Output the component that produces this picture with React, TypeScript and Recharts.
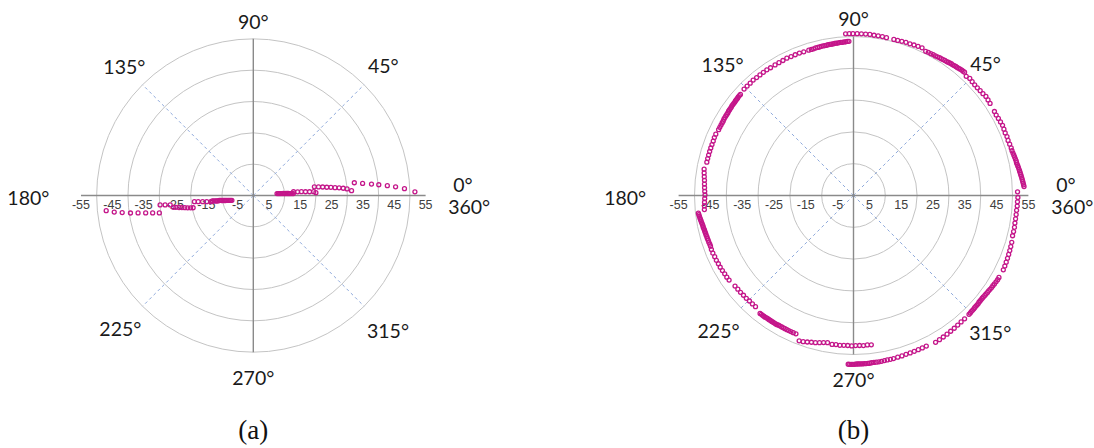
import React from 'react';
import { RadarChart, Radar, PolarGrid, PolarAngleAxis, PolarRadiusAxis } from 'recharts';

type Pt = [number, number]; // [angle in degrees, radius]

// ---------- axis values ----------
const ANGLE_TICKS = [0, 45, 90, 135, 180, 225, 270, 315];
const RING_VALUES = [10, 20, 30, 40, 50];
const RADIUS_TICK_VALUES = [5, 15, 25, 35, 45, 55];
const AXIS_MAX = 55;
const RING_MAX = 50;
const LABEL_MAX = 80;

// ---------- panel (a) data ----------
const PANEL_A_RIGHT: Pt[] = [
  [4.6, 7.6], [4.4, 8.0], [4.3, 8.4], [4.1, 8.8], [3.9, 9.2], [3.8, 9.6], [3.6, 10.0], [3.5, 10.4], [3.4, 10.8], [3.3, 11.2], [3.1, 11.6], [3.0, 12.0], [2.9, 12.4], [2.8, 12.8],
  [5.3, 12.9], [4.8, 14.2], [4.5, 15.4], [4.1, 16.7], [3.8, 18.0], [3.6, 19.3], [2.6, 20.0],
  [8.1, 19.7], [7.5, 21.0], [7.0, 22.3], [6.4, 23.6], [6.0, 24.9], [5.5, 26.2], [5.1, 27.5], [4.6, 28.8], [4.0, 30.0], [2.8, 31.4],
  [7.2, 32.5], [6.3, 35.1], [5.5, 37.9], [4.9, 40.2], [4.2, 42.9], [3.5, 45.5], [2.6, 48.3], [1.3, 51.6],
];
const PANEL_A_LEFT: Pt[] = [
  [185.9, 47.2], [186.8, 44.7], [187.4, 42.2], [188.1, 39.6], [188.6, 37.2], [189.2, 34.8], [189.8, 32.6], [190.5, 30.5],
  [185.8, 29.9], [186.1, 28.3], [186.5, 26.7], [188.4, 25.8], [188.7, 25.0], [189.2, 24.0], [189.6, 23.1], [190.1, 22.2], [190.6, 21.3], [191.1, 20.4], [191.5, 19.6],
  [186.0, 18.9], [186.4, 17.7], [187.0, 16.3], [187.6, 15.0], [188.3, 13.7],
  [187.5, 13.2], [187.9, 12.7], [188.2, 12.2], [188.5, 11.8], [188.8, 11.4], [188.3, 11.0], [188.6, 10.6], [189.0, 10.2], [189.4, 9.8], [189.8, 9.4], [190.2, 9.0], [190.6, 8.6], [191.0, 8.2], [191.5, 7.8], [192.0, 7.4], [192.6, 7.0],
];

// ---------- panel (b) data ----------
const PANEL_B_Q1: Pt[] = [
  [3.0, 53.7], [3.6, 53.6], [4.2, 53.5], [4.8, 53.4], [5.4, 53.3], [6.0, 53.2], [6.6, 53.1], [7.2, 53.0], [7.8, 52.9], [8.4, 52.8], [9.0, 52.7], [9.6, 52.6], [10.2, 52.5], [10.8, 52.4], [11.4, 52.3], [12.0, 52.3], [12.7, 52.2], [13.4, 52.1], [14.1, 52.0], [14.9, 51.9], [15.8, 51.8], [16.8, 51.8],
  [18.2, 51.7], [19.6, 51.6], [21.0, 51.7], [22.4, 51.6], [23.8, 51.7], [25.2, 51.8], [26.6, 51.7], [28.0, 51.6], [29.4, 51.5], [30.8, 51.6],
  [34.0, 51.8], [35.4, 51.9], [36.8, 52.0], [38.2, 51.8], [39.6, 51.7], [41.0, 51.6], [42.4, 51.6], [43.8, 51.7], [45.2, 51.9], [46.6, 51.6],
  [48.0, 52.2], [48.6, 52.1], [49.2, 52.1], [49.8, 52.0], [50.4, 51.9], [51.0, 51.8], [51.6, 51.8], [52.2, 51.7], [52.8, 51.6], [53.4, 51.6], [54.0, 51.5], [54.6, 51.4], [55.2, 51.3], [55.9, 51.3], [56.6, 51.2], [57.3, 51.1], [58.0, 51.1], [58.8, 51.0], [59.6, 50.9], [60.5, 50.9], [61.4, 50.8], [62.4, 50.8], [63.4, 50.7],
  [65.1, 51.2], [66.6, 51.1], [68.1, 51.0], [69.6, 50.9], [71.1, 50.9], [72.6, 50.8], [74.1, 50.7], [75.5, 50.7],
  [78.2, 50.7], [79.7, 50.8], [81.2, 50.8], [82.7, 50.8], [84.2, 50.9], [85.7, 50.9], [87.2, 50.9], [88.7, 50.9],
];
const PANEL_B_Q2: Pt[] = [
  [90.2, 50.9], [91.5, 50.9], [92.8, 50.9],
  [91.7, 48.5], [92.3, 48.5], [92.9, 48.4], [93.5, 48.4], [94.1, 48.3], [94.7, 48.3], [95.3, 48.3], [95.9, 48.2], [96.5, 48.2], [97.1, 48.2], [97.7, 48.1], [98.3, 48.1], [98.9, 48.1], [99.5, 48.1], [100.1, 48.0], [100.8, 48.0], [101.5, 48.0], [102.2, 48.0], [102.9, 47.9], [103.6, 47.9], [104.4, 47.9], [105.2, 47.8], [106.1, 47.8], [107.1, 47.8],
  [109.1, 47.8], [110.8, 47.9], [112.5, 47.9], [114.2, 47.9], [115.9, 48.0], [117.6, 47.9], [119.3, 47.9], [121.0, 47.9],
  [123.0, 47.9], [124.6, 48.0], [126.2, 48.0], [127.8, 48.0], [129.4, 48.0], [131.0, 48.1], [132.6, 48.0], [134.2, 48.0], [135.8, 48.0],
  [138.2, 47.7], [138.8, 47.7], [139.4, 47.7], [140.0, 47.6], [140.6, 47.6], [141.2, 47.6], [141.8, 47.5], [142.4, 47.5], [143.0, 47.5], [143.6, 47.5], [144.2, 47.4], [144.8, 47.4], [145.4, 47.4], [146.0, 47.4], [146.7, 47.3], [147.4, 47.3], [148.1, 47.3], [148.8, 47.3], [149.5, 47.3], [150.3, 47.2], [151.1, 47.2], [152.0, 47.2], [153.0, 47.2], [154.0, 47.2],
  [156.0, 47.4], [157.4, 47.4], [158.8, 47.3], [160.2, 47.3], [161.6, 47.3], [163.0, 47.3], [164.4, 47.3], [165.8, 47.3], [167.2, 47.3],
  [170.0, 47.7], [171.4, 47.5], [172.8, 47.3], [174.2, 47.1], [175.6, 47.0], [177.0, 46.9], [178.4, 46.8], [179.8, 46.7],
];
const PANEL_B_Q3: Pt[] = [
  [181.2, 46.8], [182.6, 46.9], [184.0, 47.0], [185.4, 47.1],
  [186.5, 49.1], [187.1, 49.0], [187.7, 48.9], [188.3, 48.8], [188.9, 48.7], [189.5, 48.6], [190.1, 48.5], [190.7, 48.4], [191.3, 48.3], [191.9, 48.3], [192.5, 48.2], [193.1, 48.1], [193.7, 48.1], [194.3, 48.0], [195.0, 48.0], [195.7, 47.9], [196.4, 47.9], [197.1, 47.8], [197.9, 47.8], [198.7, 47.7], [199.5, 47.7],
  [200.8, 47.8], [202.3, 47.8], [203.8, 47.7], [205.3, 47.7], [206.8, 47.6], [208.3, 47.6], [209.8, 47.5], [211.3, 47.4], [212.8, 47.4], [214.2, 47.3],
  [217.4, 46.9], [219.0, 46.8], [220.6, 46.8], [222.2, 46.7], [223.8, 46.7], [225.4, 46.6], [227.0, 46.6], [228.6, 46.6],
  [231.6, 47.3], [232.2, 47.3], [232.8, 47.3], [233.4, 47.3], [234.0, 47.3], [234.6, 47.2], [235.2, 47.2], [235.8, 47.2], [236.4, 47.2], [237.0, 47.2], [237.6, 47.2], [238.2, 47.2], [238.8, 47.2], [239.4, 47.2], [240.0, 47.1], [240.7, 47.1], [241.4, 47.1], [242.1, 47.1], [242.8, 47.1], [243.6, 47.1], [244.4, 47.1], [245.3, 47.1], [246.3, 47.1], [247.4, 47.1],
  [249.5, 48.8], [251.0, 48.6], [252.5, 48.3], [254.0, 48.0], [255.5, 47.8], [257.0, 47.5], [258.5, 47.2], [260.0, 47.0],
  [261.8, 47.3], [263.3, 47.2], [264.8, 47.3], [266.3, 47.2], [267.8, 47.2], [269.3, 47.3],
];
const PANEL_B_Q4: Pt[] = [
  [270.8, 47.2], [272.3, 47.2], [273.8, 47.3], [275.3, 47.2], [276.8, 47.3],
  [268.2, 53.1], [268.7, 53.1], [269.2, 53.1], [269.7, 53.1], [270.2, 53.1], [270.7, 53.0], [271.2, 53.0], [271.7, 53.0], [272.2, 53.0], [272.7, 53.0], [273.2, 53.0], [273.7, 53.0], [274.3, 53.0], [274.9, 53.0], [275.5, 53.0], [276.2, 52.9], [277.0, 52.9], [277.8, 52.9], [278.7, 52.9], [279.6, 52.9], [280.6, 52.8], [281.6, 52.8], [282.7, 52.8], [283.8, 52.8],
  [285.3, 52.7], [286.8, 52.7], [288.3, 52.6], [289.8, 52.6], [291.3, 52.6], [292.8, 52.6], [294.3, 52.6], [295.8, 52.6],
  [299.2, 52.9], [300.8, 52.8], [302.4, 52.7], [304.0, 52.6], [305.6, 52.5], [307.2, 52.4], [308.8, 52.3], [310.4, 52.2], [312.0, 52.2],
  [314.2, 52.1], [314.8, 52.1], [315.4, 52.0], [316.0, 52.0], [316.6, 52.0], [317.2, 51.9], [317.8, 51.9], [318.4, 51.9], [319.0, 51.9], [319.6, 51.8], [320.2, 51.8], [320.8, 51.8], [321.4, 51.8], [322.0, 51.8], [322.7, 51.9], [323.4, 51.9], [324.1, 52.0], [324.8, 52.0], [325.5, 52.1], [326.3, 52.2], [327.1, 52.2], [327.9, 52.3], [328.8, 52.4], [329.7, 52.5], [330.6, 52.5],
  [333.6, 52.6], [335.0, 52.5], [336.4, 52.4], [337.8, 52.3], [339.2, 52.2], [340.6, 52.1], [342.0, 52.0], [343.5, 51.9],
  [345.8, 51.6], [347.3, 51.6], [348.8, 51.6], [350.3, 51.5], [351.8, 51.5], [353.3, 51.5], [354.8, 51.5], [356.3, 51.6], [357.8, 51.6], [359.3, 51.7], [1.3, 51.6],
];

// ---------- layout / style ----------
const W = 547;
const H = 448;
const POINT_COLOR = '#C4168A';
const RING_COLOR = '#C4C4C4';
const AXIS_COLOR = '#8A8A8A';
const DIAG_COLOR = '#8FAADC';
const LABEL_FONT = 'Lato, "Noto Sans", sans-serif';
const TICK_FONT = '"Liberation Sans", Arial, sans-serif';
const LABEL_RADIUS: Record<number, number> = { 0: 62.2, 45: 58.7, 90: 55.6, 135: 58.2, 180: 71.8, 225: 60, 270: 58, 315: 60.8 };

const PANELS = [
  { id: 'a', left: 0, cx: 253.3, cy: 195.5, unit: 3.133, caption: '(a)', points: [...PANEL_A_RIGHT, ...PANEL_A_LEFT] },
  { id: 'b', left: 547, cx: 306.5, cy: 195.5, unit: 3.18, caption: '(b)', points: [...PANEL_B_Q1, ...PANEL_B_Q2, ...PANEL_B_Q3, ...PANEL_B_Q4] },
];

const toRows = (pts: Pt[]) => pts.map(([angle, r]) => ({ angle, r }));

function PolarLayer({ cx, cy, radius, data, children }: any) {
  return (
    <div style={{ position: 'absolute', left: 0, top: 0, width: W, height: H }}>
      <RadarChart
        width={W}
        height={H}
        cx={cx}
        cy={cy}
        innerRadius={0}
        outerRadius={radius}
        startAngle={0}
        endAngle={360}
        data={data}
        margin={{ top: 0, right: 0, bottom: 0, left: 0 }}
      >
        <PolarAngleAxis type="number" dataKey="angle" domain={[0, 360]} tick={false} axisLine={false} tickLine={false} />
        {children}
        {/* invisible carrier series so the radius axis has a domain to work on */}
        <Radar dataKey="r" stroke="none" fill="none" dot={false} isAnimationActive={false} />
      </RadarChart>
    </div>
  );
}

const radiusTick = (prefix: string) => (props: any) => {
  const { x, y, payload, index } = props;
  return (
    <text
      key={`rt-${prefix}-${index}`}
      x={x}
      y={y + 9.5}
      textAnchor="middle"
      dominantBaseline="central"
      fontFamily={TICK_FONT}
      fontSize={12.5}
      fill="#404040"
    >
      {prefix}
      {payload.value}
    </text>
  );
};

const angleLabel = (props: any) => {
  const { cx, cy, index } = props;
  const a = ANGLE_TICKS[index];
  const common = { fontFamily: LABEL_FONT, fontSize: 19.5, fill: '#1a1a1a', dominantBaseline: 'central' as const };
  if (a === 0) {
    return (
      <g key={`al-${index}`}>
        <text x={cx + 5} y={cy - 11} textAnchor="start" {...common}>{`${a}°`}</text>
        <text x={cx} y={cy + 11} textAnchor="start" {...common}>{`${a + 360}°`}</text>
      </g>
    );
  }
  return (
    <text key={`al-${index}`} x={cx} y={a === 180 ? cy + 2 : cy} textAnchor="middle" {...common}>
      {`${a}°`}
    </text>
  );
};

function Panel({ panel }: any) {
  const u = panel.unit;
  const pos = { cx: panel.cx, cy: panel.cy };
  const rows = toRows(panel.points);
  const labelRows = ANGLE_TICKS.map((a) => ({ angle: a, r: LABEL_RADIUS[a] }));
  const horizontal = ANGLE_TICKS.filter((a) => a % 180 === 0);
  const vertical = ANGLE_TICKS.filter((a) => a % 180 === 90);
  const diagonals = ANGLE_TICKS.filter((a) => a % 90 !== 0);
  return (
    <div style={{ position: 'absolute', left: panel.left, top: 0, width: W, height: H }}>
      <PolarLayer {...pos} radius={AXIS_MAX * u} data={rows}>
        <PolarRadiusAxis domain={[0, AXIS_MAX]} ticks={RING_VALUES} tick={false} axisLine={false} />
        <PolarGrid gridType="circle" radialLines={false} stroke={RING_COLOR} strokeWidth={1} />
      </PolarLayer>
      <PolarLayer {...pos} radius={RING_MAX * u} data={rows}>
        <PolarRadiusAxis domain={[0, RING_MAX]} tick={false} axisLine={false} />
        <PolarGrid gridType="circle" polarRadius={[]} polarAngles={diagonals} stroke={DIAG_COLOR} strokeWidth={1} strokeDasharray="3 3" />
        <PolarGrid gridType="circle" polarRadius={[]} polarAngles={vertical} stroke={AXIS_COLOR} strokeWidth={1.4} />
      </PolarLayer>
      <PolarLayer {...pos} radius={AXIS_MAX * u} data={rows}>
        <PolarRadiusAxis domain={[0, AXIS_MAX]} tick={false} axisLine={false} />
        <PolarGrid gridType="circle" polarRadius={[]} polarAngles={horizontal} stroke={AXIS_COLOR} strokeWidth={1.4} />
      </PolarLayer>
      <PolarLayer {...pos} radius={AXIS_MAX * u} data={rows}>
        <PolarRadiusAxis angle={0} domain={[0, AXIS_MAX]} ticks={RADIUS_TICK_VALUES} axisLine={false} tick={radiusTick('')} />
      </PolarLayer>
      <PolarLayer {...pos} radius={AXIS_MAX * u} data={rows}>
        <PolarRadiusAxis angle={180} domain={[0, AXIS_MAX]} ticks={RADIUS_TICK_VALUES} axisLine={false} tick={radiusTick('-')} />
      </PolarLayer>
      <PolarLayer {...pos} radius={LABEL_MAX * u} data={labelRows}>
        <PolarRadiusAxis domain={[0, LABEL_MAX]} tick={false} axisLine={false} />
        <Radar dataKey="r" stroke="none" fill="none" dot={angleLabel} isAnimationActive={false} />
      </PolarLayer>
      <PolarLayer {...pos} radius={AXIS_MAX * u} data={rows}>
        <PolarRadiusAxis domain={[0, AXIS_MAX]} tick={false} axisLine={false} />
        <Radar
          dataKey="r"
          stroke="none"
          fill="none"
          dot={{ r: 2, fill: 'none', stroke: POINT_COLOR, strokeWidth: 1.3 }}
          isAnimationActive={false}
        />
      </PolarLayer>
      <div
        style={{
          position: 'absolute',
          left: panel.cx - 40,
          width: 80,
          top: 413,
          textAlign: 'center',
          fontFamily: '"Liberation Serif", "Times New Roman", serif',
          fontSize: 27,
          lineHeight: '34px',
          color: '#111',
        }}
      >
        {panel.caption}
      </div>
    </div>
  );
}

export default function App() {
  return (
    <div style={{ position: 'absolute', left: 0, top: 0, width: 1094, height: 448, background: '#fff', overflow: 'hidden' }}>
      {PANELS.map((p) => (
        <Panel key={p.id} panel={p} />
      ))}
    </div>
  );
}
